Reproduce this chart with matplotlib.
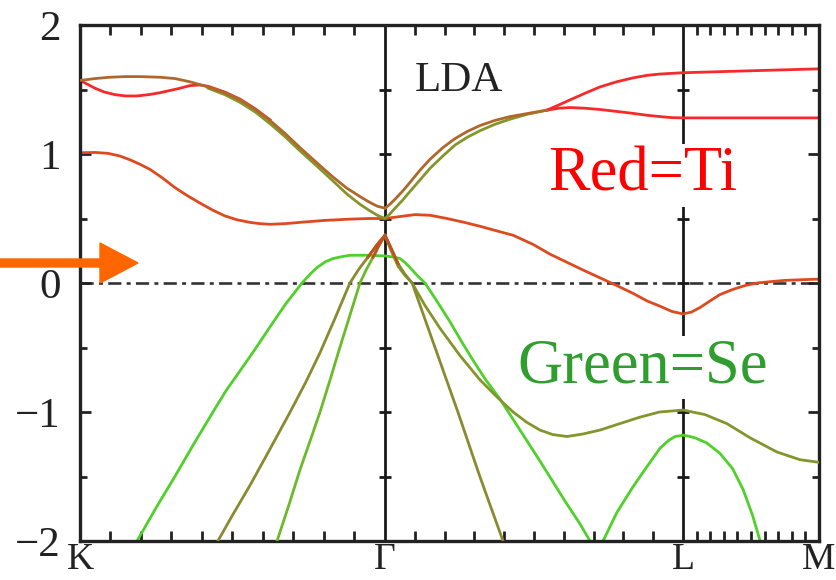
import matplotlib
matplotlib.use("Agg")
import matplotlib.pyplot as plt
import matplotlib.patches as mpatches

plt.rcParams['font.family'] = ['Liberation Serif', 'DejaVu Serif']

# high symmetry points along the k-path (K=0, Gamma=1)
sym_labels = ["K", "Γ", "L", "M"]
sym_k = [0.0, 1.0, 1.977, 2.423]

# bands: (k, E) pairs, E in eV
# top band K -> Gamma (brown)
bA_k = [0.0, 0.05, 0.098, 0.148, 0.197, 0.262, 0.311, 0.36, 0.42, 0.475, 0.525, 0.575,
        0.623, 0.672, 0.721, 0.775, 0.830, 0.875, 0.918, 0.950, 0.975, 1.0]
bA_E = [1.57, 1.585, 1.595, 1.60, 1.60, 1.595, 1.585, 1.56, 1.52, 1.475, 1.42, 1.345,
        1.26, 1.16, 1.05, 0.935, 0.82, 0.735, 0.67, 0.625, 0.595, 0.58]
# Se partner of it (olive)
bA2_k = [0.42, 0.475, 0.525, 0.575, 0.623, 0.672, 0.721, 0.775, 0.830, 0.875, 0.918,
         0.950, 0.975, 1.0]
bA2_E = [1.51, 1.46, 1.40, 1.325, 1.235, 1.135, 1.025, 0.91, 0.79, 0.69, 0.61,
         0.56, 0.525, 0.50]
# red Ti band with the dip near K
bB_k = [0.0, 0.025, 0.049, 0.08, 0.115, 0.15, 0.187, 0.225, 0.262, 0.30, 0.328, 0.36,
        0.393, 0.42, 0.475, 0.525, 0.575, 0.623]
bB_E = [1.57, 1.54, 1.51, 1.48, 1.46, 1.45, 1.45, 1.46, 1.475, 1.495, 1.51, 1.53,
        1.535, 1.525, 1.48, 1.425, 1.35, 1.265]
# Ti band from K (1.0) through Gamma to L and M
bC_k = [0.0, 0.05, 0.092, 0.13, 0.164, 0.197, 0.230, 0.27, 0.311, 0.35, 0.393, 0.435,
        0.475, 0.515, 0.557, 0.59, 0.623, 0.672, 0.721, 0.80, 0.885, 0.95, 1.0,
        1.049, 1.098, 1.148, 1.203, 1.26, 1.311, 1.365, 1.420, 1.485, 1.54, 1.597,
        1.65, 1.705, 1.76, 1.813, 1.86, 1.902, 1.94, 1.977, 2.005, 2.033, 2.065,
        2.098, 2.14, 2.180, 2.22, 2.262, 2.31, 2.361, 2.423]
bC_E = [1.01, 1.012, 1.005, 0.985, 0.955, 0.92, 0.88, 0.815, 0.74, 0.68, 0.62, 0.565,
        0.52, 0.49, 0.47, 0.46, 0.455, 0.46, 0.47, 0.485, 0.495, 0.50, 0.50,
        0.515, 0.53, 0.525, 0.50, 0.47, 0.44, 0.405, 0.37, 0.30, 0.225, 0.16,
        0.10, 0.04, -0.02, -0.08, -0.14, -0.18, -0.22, -0.24, -0.225, -0.19, -0.14,
        -0.09, -0.05, -0.02, 0.0, 0.01, 0.02, 0.025, 0.03]
# upper pair Gamma -> L -> M
bG_k = [1.0, 1.016, 1.033, 1.057, 1.082, 1.115, 1.148, 1.19, 1.230, 1.27, 1.311, 1.36,
        1.410, 1.47, 1.531]
bG_E = [0.58, 0.61, 0.65, 0.71, 0.78, 0.875, 0.96, 1.05, 1.12, 1.175, 1.22, 1.26,
        1.29, 1.315, 1.34]
bG2_k = [1.531, 1.57, 1.607, 1.655, 1.705, 1.76, 1.813, 1.86, 1.902, 1.977, 2.197, 2.423]
bG2_E = [1.34, 1.38, 1.42, 1.47, 1.52, 1.56, 1.59, 1.61, 1.62, 1.63, 1.645, 1.66]
bH_k = [1.0, 1.016, 1.033, 1.057, 1.082, 1.115, 1.148, 1.19, 1.230, 1.27, 1.311, 1.36,
        1.410, 1.47, 1.531]
bH_E = [0.50, 0.535, 0.58, 0.64, 0.71, 0.80, 0.89, 0.985, 1.07, 1.13, 1.18, 1.23,
        1.27, 1.31, 1.34]
bH2_k = [1.531, 1.57, 1.607, 1.655, 1.705, 1.76, 1.813, 1.86, 1.902, 1.94, 1.977, 2.423]
bH2_E = [1.34, 1.355, 1.36, 1.355, 1.345, 1.33, 1.315, 1.30, 1.29, 1.282, 1.28, 1.28]
# Se valence bands
bD_k = [0.40, 0.452, 0.50, 0.557, 0.62, 0.689, 0.74, 0.787, 0.835, 0.885, 0.915, 0.944,
        0.975, 1.0, 1.02, 1.043, 1.065, 1.089, 1.164, 1.239, 1.311, 1.387, 1.44]
bD_E = [-2.3, -2.0, -1.8, -1.57, -1.30, -1.0, -0.77, -0.54, -0.28, 0.0, 0.11, 0.2,
        0.30, 0.37, 0.27, 0.15, 0.07, 0.0, -0.5, -1.0, -1.5, -2.0, -2.3]
bE_k = [0.62, 0.646, 0.685, 0.721, 0.755, 0.787, 0.82, 0.852, 0.885, 0.918, 0.94,
        0.961, 0.98, 1.0]
bE_E = [-2.3, -2.0, -1.72, -1.45, -1.22, -1.0, -0.75, -0.5, -0.25, 0.0, 0.11,
        0.2, 0.29, 0.37]
bE2_k = [1.0, 1.02, 1.043, 1.065, 1.089, 1.13, 1.180, 1.245, 1.311, 1.37, 1.420,
         1.465, 1.508, 1.55, 1.597, 1.65, 1.705, 1.77, 1.836, 1.90, 1.977, 2.049,
         2.121, 2.197, 2.285, 2.361, 2.423]
bE2_E = [0.37, 0.25, 0.13, 0.06, 0.0, -0.17, -0.35, -0.56, -0.75, -0.89, -1.0,
         -1.08, -1.14, -1.175, -1.19, -1.17, -1.14, -1.09, -1.04, -1.00, -0.985, -1.02,
         -1.09, -1.20, -1.31, -1.37, -1.39]
bF_k = [0.10, 0.187, 0.25, 0.311, 0.375, 0.436, 0.48, 0.525, 0.575, 0.623, 0.675,
        0.728, 0.755, 0.777, 0.805, 0.830, 0.86, 0.885, 0.944, 1.0, 1.03, 1.049,
        1.065, 1.082, 1.105, 1.131, 1.17, 1.213, 1.25, 1.289, 1.33, 1.377, 1.44,
        1.508, 1.59, 1.64, 1.672, 1.692, 1.715, 1.76, 1.813, 1.86, 1.902, 1.93,
        1.951, 1.977, 2.0, 2.016, 2.055, 2.098, 2.14, 2.174, 2.205, 2.230, 2.28]
bF_E = [-2.5, -2.0, -1.74, -1.5, -1.24, -1.0, -0.83, -0.68, -0.51, -0.34, -0.16,
        0.0, 0.07, 0.12, 0.165, 0.19, 0.205, 0.215, 0.215, 0.21, 0.20, 0.19,
        0.16, 0.12, 0.06, 0.0, -0.14, -0.3, -0.45, -0.6, -0.75, -0.9, -1.13,
        -1.38, -1.69, -1.87, -2.0, -2.06, -2.0, -1.78, -1.58, -1.42, -1.28, -1.22,
        -1.19, -1.18, -1.19, -1.20, -1.24, -1.32, -1.44, -1.60, -1.80, -2.0, -2.35]

red = "#f52a2a"
tired = "#de4a20"
brown = "#b0682a"
olive = "#84952c"
green = "#4fd02a"
dgreen = "#6cba2a"
peak = "#c0501e"

fig = plt.figure(figsize=(8.36, 5.8), dpi=100)
ax = fig.add_axes([80 / 836, 39 / 580, 739 / 836, 516 / 580])

lw = 2.0
ax.plot(bB_k, bB_E, color=red, lw=lw, zorder=2)
ax.plot(bC_k, bC_E, color=tired, lw=lw, zorder=2)
ax.plot(bA2_k, bA2_E, color=olive, lw=lw, zorder=3)
ax.plot(bA_k, bA_E, color=brown, lw=lw, zorder=3)
ax.plot(bG2_k, bG2_E, color=red, lw=lw, zorder=2)
ax.plot(bH2_k, bH2_E, color=red, lw=lw, zorder=2)
ax.plot(bH_k, bH_E, color=olive, lw=lw, zorder=3)
ax.plot(bG_k, bG_E, color=brown, lw=lw, zorder=3)
ax.plot(bF_k, bF_E, color=green, lw=lw, zorder=2)
ax.plot(bE_k, bE_E, color=dgreen, lw=lw, zorder=3)
ax.plot(bE2_k, bE2_E, color=olive, lw=lw, zorder=3)
ax.plot(bD_k, bD_E, color="#8a8a30", lw=lw, zorder=3)
# the tip of the valence X at Gamma is Ti-coloured
ax.plot(bD_k[11:16], bD_E[11:16], color=peak, lw=lw, zorder=4)
ax.plot(bE_k[-3:], bE_E[-3:], color=peak, lw=lw, zorder=4)

# fermi level
ax.axhline(0, color="#333333", lw=1.9, ls=(0, (5, 2, 1.5, 2)), zorder=1)

# vertical lines at Gamma and L, with little crossbar ticks
e_marks = [-1.5, -1.0, -0.5, 0.0, 0.5, 1.0, 1.5]
for kk in sym_k[1:3]:
    ax.axvline(kk, color="#1a1a1a", lw=2.0, zorder=1)
    ax.plot([kk] * len(e_marks), e_marks, ls="none", marker="_", ms=8, mew=2,
            color="#1a1a1a", zorder=1)

ax.set_xlim(sym_k[0], sym_k[-1])
ax.set_ylim(-2, 2)

# minor ticks: ten divisions per segment
minor = []
for a, b in zip(sym_k[:-1], sym_k[1:]):
    minor += [a + (b - a) * i / 10 for i in range(1, 10)]
ax.set_xticks(sym_k)
ax.set_xticks(minor, minor=True)
ax.set_xticklabels(sym_labels)
ax.set_yticks([-2, -1, 0, 1, 2])
ax.set_yticklabels(["−2", "−1", "0", "1", "2"])
ax.set_yticks([-1.5, -0.5, 0.5, 1.5], minor=True)
ax.tick_params(axis="both", which="both", direction="in", top=True, right=True,
               labelsize=31, colors="#222222", width=2)
ax.tick_params(axis="x", which="major", length=0, pad=1, labelsize=27)
ax.tick_params(axis="x", which="minor", length=7)
ax.tick_params(axis="y", which="major", length=8, pad=14)
ax.tick_params(axis="y", which="minor", length=5)
for s in ax.spines.values():
    s.set_linewidth(2.4)
    s.set_color("#222222")

ax.text(1.098, 1.49, "LDA", fontsize=31, color="#222222", zorder=5)
ax.text(1.534, 0.72, "Red=Ti", fontsize=45, color="#ff0000", zorder=6,
        bbox=dict(facecolor="white", edgecolor="none", pad=2))
ax.text(1.433, -0.775, "Green=Se", fontsize=45, color="#2f9e2f", zorder=6,
        bbox=dict(facecolor="white", edgecolor="none", pad=2))

# orange arrow pointing at the fermi level region
arrow = mpatches.FancyArrow(0.0, (580 - 263) / 100, 1.38, 0.0, width=0.08,
                            head_width=0.40, head_length=0.38,
                            length_includes_head=True, color="#ff6600",
                            transform=fig.dpi_scale_trans, zorder=10)
fig.add_artist(arrow)

fig.savefig("out.png", dpi=100)
